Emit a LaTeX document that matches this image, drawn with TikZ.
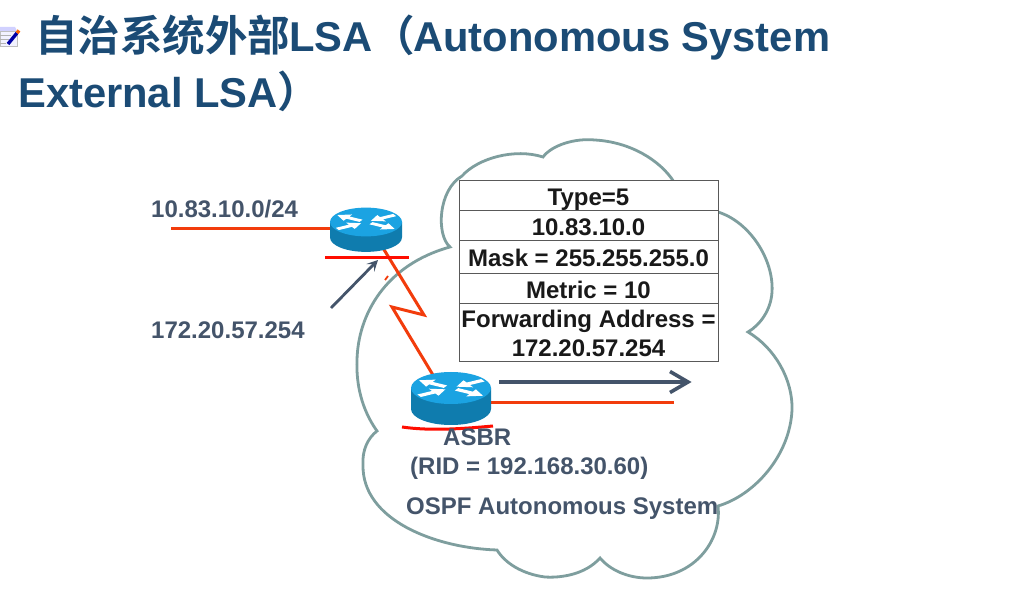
\documentclass[tikz,border=0pt]{standalone}
\usepackage{fontspec}
\setmainfont{Liberation Sans}
\newfontfamily\cjkbold[BoldFont={Noto Sans CJK SC Bold}]{Noto Sans CJK SC}
\newcommand{\cjkt}[1]{{\fontsize{42.5}{46}\selectfont\cjkbold #1}}
\newcommand{\routerarrow}{\fill[white] (0.16,-0.085) -- (0.58,-0.085) -- (0.58,-0.24) -- (0.92,0) -- (0.58,0.24) -- (0.58,0.085) -- (0.16,0.085) -- cycle;}
\usetikzlibrary{arrows.meta}
\definecolor{titleblue}{HTML}{1B4B75}
\definecolor{slate}{HTML}{44546A}
\definecolor{linkred}{HTML}{F23C0C}
\definecolor{cloudline}{HTML}{7E9E9E}
\definecolor{rtop}{HTML}{1BA3E2}
\definecolor{rside}{HTML}{0F7CAE}
\tikzset{
  titletext/.style={text=titleblue,font=\fontsize{41.7}{46}\bfseries\selectfont,anchor=base west,inner sep=0},
  labeltext/.style={text=slate,font=\fontsize{24}{27}\bfseries\selectfont,anchor=base west,inner sep=0},
  rowbox/.style={draw=black!65,line width=1,fill=white,minimum width=259,inner sep=0,outer sep=0,anchor=north west,
     text=black!90,font=\fontsize{24}{29}\bfseries\selectfont,align=center},
  onerow/.style={rowbox,text height=20,text depth=0},
  link/.style={draw=linkred,line width=3},
  thinred/.style={draw=red!90!orange,line width=3},
  cloudpath/.style={draw=cloudline,line width=2.8,fill=white},
  pics/router/.style={code={
    \fill[rside] (-1,0) -- (-1,#1) arc[start angle=180,end angle=0,x radius=1,y radius=0.4] -- (1,0) -- cycle;
    \fill[rtop] (0,0) ellipse[x radius=1,y radius=0.4];
    \begin{scope}[yscale=0.42,transform shape]
      \begin{scope}[rotate=-30] \routerarrow \end{scope}
      \begin{scope}[rotate=150] \routerarrow \end{scope}
      \begin{scope}[rotate=210,shift={(1.08,0)},rotate=180] \routerarrow \end{scope}
      \begin{scope}[rotate=30,shift={(1.08,0)},rotate=180] \routerarrow \end{scope}
    \end{scope}
  }}
}
\begin{document}
\begin{tikzpicture}[x=1pt,y=-1pt]
\useasboundingbox (0,0) rectangle (1020,593);
\fill[white] (0,0) rectangle (1020,593);
% icon
\fill[blue!18!white] (0,27) -- (15,27) -- (17,31) -- (0,31) -- cycle;
\fill[blue!5!white,draw=gray!50,line width=.5] (0,31) -- (17,31) -- (17,46) -- (0,46) -- cycle;
\draw[gray!60,line width=.6] (0,35) -- (11,35) (0,39) -- (9,39) (0,43) -- (6,43);
\draw[blue!65!black,line width=3.4] (8,44) -- (17,33);
\draw[orange!80!red,line width=3.4] (17,33) -- (19,30.5);
% title
\node[titletext] (t1) at (35,52) {\cjkt{自治系统外部}\kern-1pt LSA\cjkt{（}\kern-2pt Autonomous System};
\node[titletext] (t2) at (18,108) {External LSA\cjkt{）}};
% cloud
\path[cloudpath] (450,247)
  .. controls (436,235) and (438,190) .. (462,176)
  .. controls (478,158) and (515,148) .. (543,157)
  .. controls (552,145) and (575,138) .. (595,140)
  .. controls (630,142) and (660,160) .. (674,182)
  -- (718,212)
  .. controls (750,222) and (774,260) .. (772,292)
  .. controls (771,310) and (760,325) .. (748,332)
  .. controls (775,348) and (793,380) .. (792,410)
  .. controls (790,455) and (755,495) .. (718,506)
  .. controls (722,540) and (695,578) .. (647,578)
  .. controls (628,578) and (610,570) .. (600,558)
  .. controls (585,575) and (560,578) .. (545,577)
  .. controls (522,574) and (505,563) .. (497,550)
  .. controls (435,548) and (362,520) .. (363,465)
  .. controls (362,450) and (368,438) .. (377,431)
  .. controls (362,410) and (356,385) .. (357,360)
  .. controls (358,315) and (385,265) .. (450,247) -- cycle;
% table
\node[onerow,minimum height=30] (r1) at (459,180.5) {Type=5};
\node[onerow,minimum height=30] (r2) at (r1.south west) {10.83.10.0};
\node[onerow,minimum height=33] (r3) at (r2.south west) {Mask = 255.255.255.0};
\node[onerow,minimum height=30] (r4) at (r3.south west) {Metric = 10};
\node[rowbox,minimum height=58] (r5) at (r4.south west) {\rule{0pt}{20pt}Forwarding Address =\\172.20.57.254};
% link coordinates
\coordinate (r1lan) at (171,229);
\coordinate (r1port) at (332,229);
\coordinate (z1) at (383,248);
\coordinate (z2) at (424,315);
\coordinate (z3) at (392,307);
\coordinate (z4) at (433,375);
\coordinate (r2port) at (490,403);
\coordinate (r2end) at (674,403);
% links under routers
\draw[link] (r1lan) -- (r1port);
\draw[link,line join=miter] (z1) -- (z2) -- (z3) -- (z4);
\draw[link] (r2port) -- (r2end);
% small pointer mark on the cloud edge
\coordinate (p1) at (394,270); \coordinate (p2) at (388,276); \coordinate (p3) at (385,280);
\draw[white,line width=2] (p1) -- (p2);
\draw[linkred,line width=1.8] (p2) -- (p3);
% routers
\begin{scope}[shift={(366,222)},x=36pt,y=-36pt]
  \pic (routerA) at (0,0) {router=0.43};
\end{scope}
\begin{scope}[shift={(451,388)},x=40pt,y=-40pt]
  \pic (routerB) at (0,0) {router=0.525};
\end{scope}
% red marks
\coordinate (m1a) at (325,258); \coordinate (m1b) at (409,258);
\draw[thinred] (m1a) -- (m1b);
\coordinate (m2a) at (402,427); \coordinate (m2b) at (493,426);
\draw[thinred] (m2a) .. controls (430,431) and (460,429) .. (m2b);
% arrows
\coordinate (a1a) at (331,308); \coordinate (a1b) at (378,260);
\draw[slate,line width=2.8,-{Stealth[length=11pt,width=11pt,inset=5pt]}] (a1a) -- (a1b);
\coordinate (a2a) at (499,382); \coordinate (a2b) at (688,382);
\draw[slate,line width=4] (a2a) -- (a2b);
\draw[slate,line width=3.6,line join=miter] ([shift={(-18,-10.5)}]a2b) -- (a2b) -- ([shift={(-18,10.5)}]a2b);
% labels
\node[labeltext] (l1) at (151,218) {10.83.10.0/24};
\node[labeltext] (l2) at (151,339) {172.20.57.254};
\node[labeltext] (l3) at (443,445) {ASBR};
\node[labeltext] (l4) at (410,474) {(RID = 192.168.30.60)};
\node[labeltext] (l5) at (406,514) {OSPF Autonomous System};
\end{tikzpicture}
\end{document}
